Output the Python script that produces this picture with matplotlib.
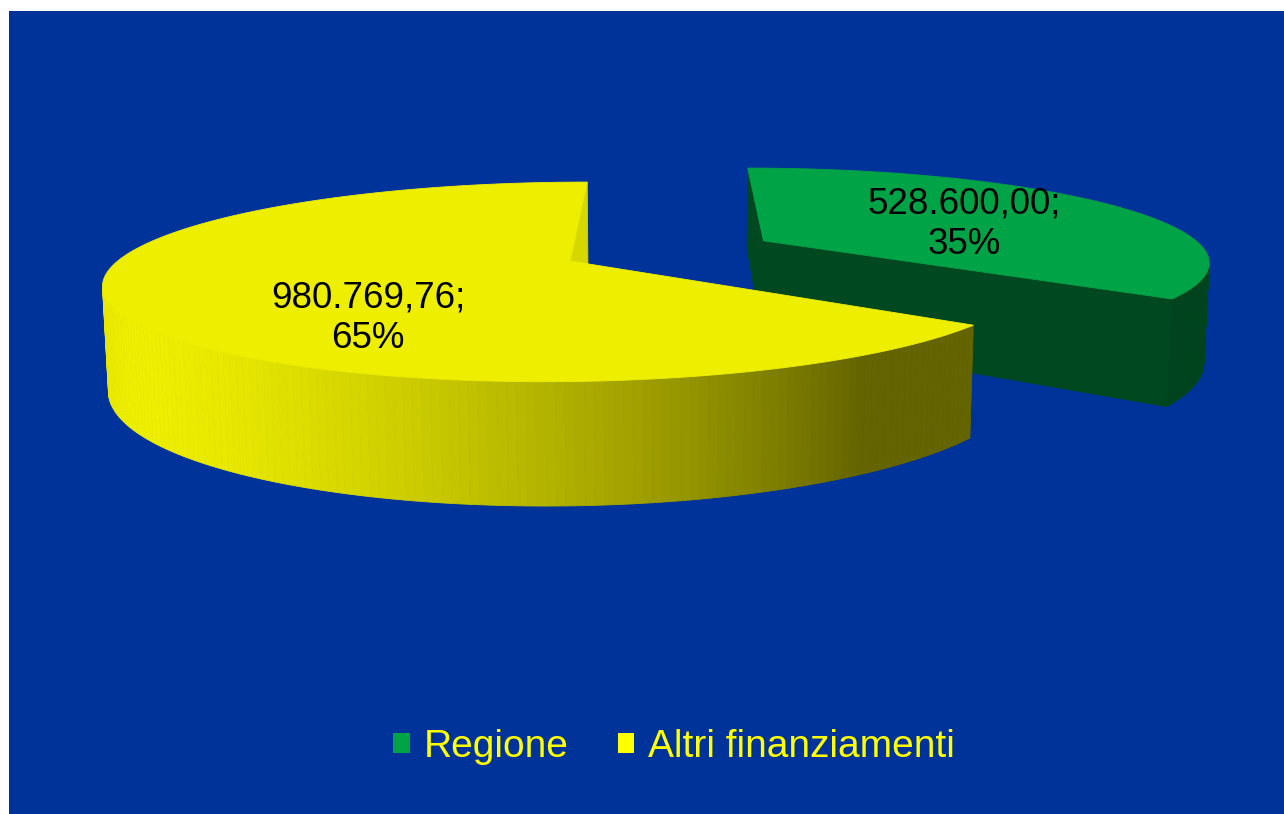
import numpy as np
import matplotlib.pyplot as plt
import matplotlib.colors as mcolors
from matplotlib.patches import Polygon, Rectangle

plt.rcParams["font.family"] = ["Liberation Sans", "DejaVu Sans"]

# data
categories = ["Regione", "Altri finanziamenti"]
values = [528600.00, 980769.76]

# style
top_colors = ["#00A346", "#EEEE00"]
legend_colors = ["#00A346", "#FFFF00"]
cut_shade = [0.44, 0.9]
label_angle = [68, 215]      # degrees, clockwise from the back of the pie
label_radius = [0.53, 0.65]
BG = "#003399"

W, H = 1284, 814
CAM_D = 4.8                  # camera distance (pie radius = 1)
PHI = np.radians(11.9)       # elevation
FOC = 2123
CX, CY = 669, 250.7
EXPLODE = 0.245
THICK = 0.228
LIGHT = np.radians(235)

cphi, sphi = np.cos(PHI), np.sin(PHI)
cam = np.array([0.0, CAM_D * sphi, CAM_D * cphi])


def project(X, Y, Z):
    X, Y, Z = np.broadcast_arrays(np.asarray(X, float), np.asarray(Y, float),
                                  np.asarray(Z, float))
    yc = Y * cphi - Z * sphi
    d = CAM_D - Z * cphi - Y * sphi
    return CX + FOC * X / d, CY - FOC * yc / d


def faces_camera(normal, point):
    return np.dot(normal, cam - point) > 0


def shade(hex_color, k):
    rgb = np.array(mcolors.to_rgb(hex_color))
    return tuple(np.clip(rgb * k, 0, 1))


def add_poly(ax, xs, ys, color):
    ax.add_patch(Polygon(np.column_stack([xs, ys]), closed=True,
                         facecolor=color, edgecolor=color, linewidth=0.6))


def it_number(v):
    s = f"{v:,.2f}"
    return s.replace(",", "X").replace(".", ",").replace("X", ".")


total = sum(values)
bounds = np.concatenate([[0], np.cumsum(values) / total]) * 2 * np.pi

fig = plt.figure(figsize=(W / 100, H / 100), dpi=100)
fig.patch.set_facecolor("white")
ax = fig.add_axes([0, 0, 1, 1])
ax.set_xlim(0, W)
ax.set_ylim(H, 0)
ax.axis("off")
ax.add_patch(Rectangle((9, 11), W - 9, H - 11, facecolor=BG, edgecolor="none"))

slices = []
for i in range(len(values)):
    a0, a1 = bounds[i], bounds[i + 1]
    mid = (a0 + a1) / 2
    ex, ez = EXPLODE * np.sin(mid), -EXPLODE * np.cos(mid)
    slices.append((ez, i, a0, a1, ex))

# farthest slice first
for ez, i, a0, a1, ex in sorted(slices):
    col = top_colors[i]

    # outer wall, shaded strip by strip
    th = np.linspace(a0, a1, 240)
    for t0, t1 in zip(th[:-1], th[1:]):
        tm = (t0 + t1) / 2
        n = np.array([np.sin(tm), 0, -np.cos(tm)])
        p = np.array([ex + np.sin(tm), -THICK / 2, ez - np.cos(tm)])
        if not faces_camera(n, p):
            continue
        k = 0.42 + 0.58 * max(0.0, np.cos(tm - LIGHT))
        xs, ys = project(
            [ex + np.sin(t0), ex + np.sin(t1), ex + np.sin(t1), ex + np.sin(t0)],
            [0, 0, -THICK, -THICK],
            [ez - np.cos(t0), ez - np.cos(t1), ez - np.cos(t1), ez - np.cos(t0)])
        add_poly(ax, xs, ys, shade(col, k))

    # radial cut faces
    for a, sgn in ((a0, -1), (a1, 1)):
        n = sgn * np.array([np.cos(a), 0, np.sin(a)])
        p = np.array([ex + 0.5 * np.sin(a), -THICK / 2, ez - 0.5 * np.cos(a)])
        if not faces_camera(n, p):
            continue
        xs, ys = project([ex, ex + np.sin(a), ex + np.sin(a), ex],
                         [0, 0, -THICK, -THICK],
                         [ez, ez - np.cos(a), ez - np.cos(a), ez])
        add_poly(ax, xs, ys, shade(col, cut_shade[i]))

    # top face
    th = np.linspace(a0, a1, 400)
    xs, ys = project(np.r_[ex, ex + np.sin(th)], 0, np.r_[ez, ez - np.cos(th)])
    add_poly(ax, xs, ys, col)

    # data label
    la, lr = np.radians(label_angle[i]), label_radius[i]
    lx, ly = project(ex + lr * np.sin(la), 0, ez - lr * np.cos(la))
    pct = round(100 * values[i] / total)
    ax.text(float(lx), float(ly), f"{it_number(values[i])};\n{pct}%",
            ha="center", va="center", fontsize=26.5, color="black",
            linespacing=1.2)

handles = [Rectangle((0, 0), 1, 1, facecolor=c, edgecolor="none")
           for c in legend_colors]
fig.legend(handles, categories, loc="center",
           bbox_to_anchor=(674 / W, 1 - 747 / H), ncol=2, frameon=False,
           fontsize=28, labelcolor="#FFFF00", handlelength=0.42,
           handleheight=0.42, handletextpad=0.36, columnspacing=1.26)

fig.savefig("out.png", dpi=100, facecolor=fig.get_facecolor())
